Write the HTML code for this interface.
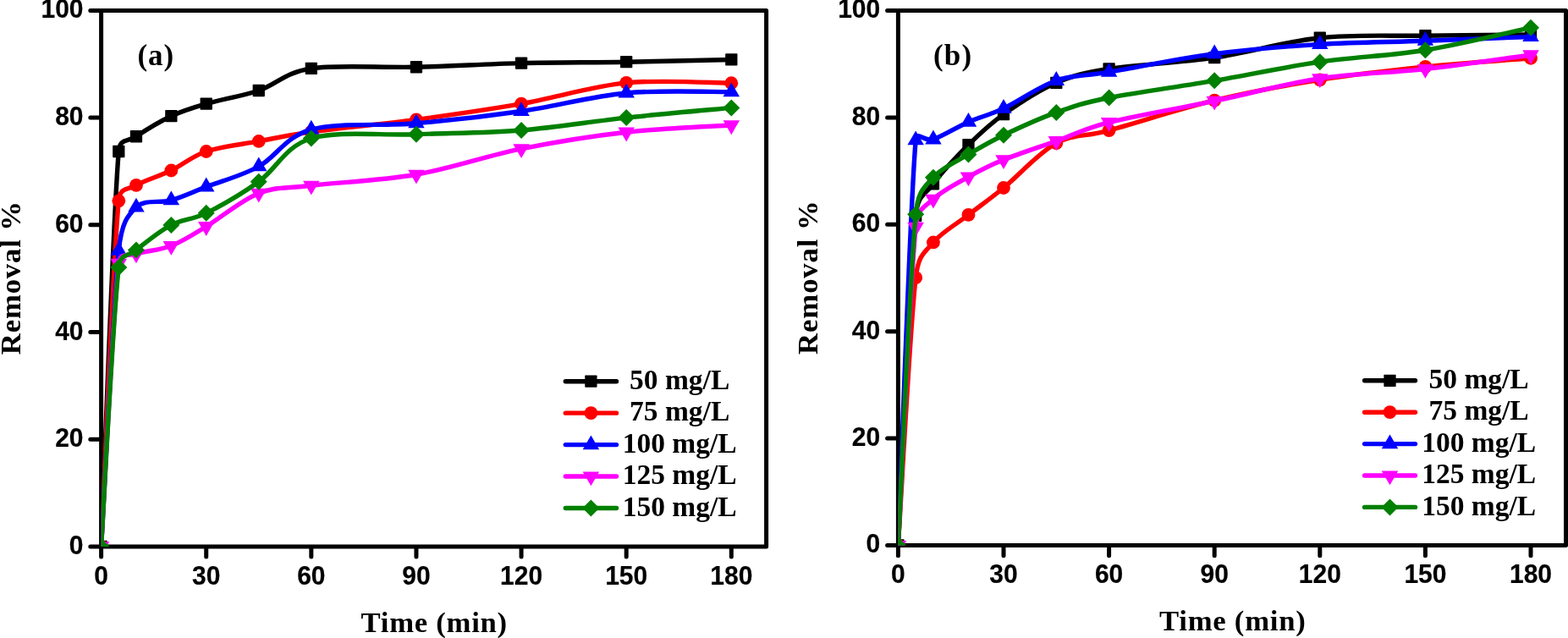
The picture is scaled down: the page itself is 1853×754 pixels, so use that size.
<!DOCTYPE html>
<html lang="en">
<head>
<meta charset="utf-8">
<title>Removal % vs Time</title>
<style>
html,body{margin:0;padding:0;background:#fff;}
body{width:1853px;height:754px;overflow:hidden;}
svg{display:block;}
.tk text{font-family:"Liberation Sans",Arial,Helvetica,sans-serif;font-weight:700;font-size:30px;fill:#000;stroke:#000;stroke-width:0.2px;stroke-linejoin:round;}
.tt{font-family:"Liberation Serif","Times New Roman",Times,serif;font-weight:700;font-size:34.7px;fill:#000;}
.tg{font-family:"Liberation Serif","Times New Roman",Times,serif;font-weight:700;font-size:35px;fill:#000;}
.lg text{font-family:"Liberation Serif","Times New Roman",Times,serif;font-weight:700;font-size:33.5px;fill:#000;}
</style>
</head>
<body>
<svg width="1853" height="754" viewBox="0 0 1853 754" role="img" aria-label="Removal percent versus time for five concentrations, panels a and b">
<rect width="1853" height="754" fill="#fff"/>
<g id="chart-a">
<g class="ax" fill="none" stroke="#000" stroke-width="5" stroke-linecap="round" stroke-linejoin="round">
<rect x="119.6" y="12.4" width="786" height="633.5"/>
<path d="M119.6,647.4v10.7M243.72,647.4v10.7M367.83,647.4v10.7M491.95,647.4v10.7M616.07,647.4v10.7M740.18,647.4v10.7M864.3,647.4v10.7M118.1,645.9h-11.3M118.1,519.2h-11.3M118.1,392.5h-11.3M118.1,265.8h-11.3M118.1,139.1h-11.3M118.1,12.4h-11.3"/>
</g>
<g class="tk">
<text transform="translate(119.6 690.9) scale(1 1.03)" text-anchor="middle">0</text>
<text transform="translate(243.72 690.9) scale(1 1.03)" text-anchor="middle">30</text>
<text transform="translate(367.83 690.9) scale(1 1.03)" text-anchor="middle">60</text>
<text transform="translate(491.95 690.9) scale(1 1.03)" text-anchor="middle">90</text>
<text transform="translate(616.07 690.9) scale(1 1.03)" text-anchor="middle">120</text>
<text transform="translate(740.18 690.9) scale(1 1.03)" text-anchor="middle">150</text>
<text transform="translate(864.3 690.9) scale(1 1.03)" text-anchor="middle">180</text>
<text transform="translate(98.5 654.9) scale(1 1.03)" text-anchor="end">0</text>
<text transform="translate(98.5 528.2) scale(1 1.03)" text-anchor="end">20</text>
<text transform="translate(98.5 401.5) scale(1 1.03)" text-anchor="end">40</text>
<text transform="translate(98.5 274.8) scale(1 1.03)" text-anchor="end">60</text>
<text transform="translate(98.5 148.1) scale(1 1.03)" text-anchor="end">80</text>
<text transform="translate(98.5 21.4) scale(1 1.03)" text-anchor="end">100</text>
</g>
<text class="tt" x="512.8" y="746.5" text-anchor="middle" textLength="172.5" lengthAdjust="spacing">Time (min)</text>
<text class="tt" transform="translate(23.9 328.65) rotate(-90)" text-anchor="middle" textLength="181" lengthAdjust="spacing">Removal %</text>
<text class="tg" x="162.5" y="76.9" textLength="42.6" lengthAdjust="spacing">(a)</text>
<clipPath id="clip-a"><rect x="119.6" y="12.4" width="786" height="633.5"/></clipPath>
<g clip-path="url(#clip-a)">
<g>
<path d="M119.6,645.9C123.05,568.09 133.39,259.78 140.29,179.01C141.68,162.72 150.63,168.24 160.97,161.27C171.32,154.3 188.55,143.64 202.34,137.2C216.14,130.76 226.48,127.67 243.72,122.63C260.96,117.59 285.09,113.95 305.77,106.98C326.46,100.01 336.8,85.44 367.83,80.82C398.86,76.19 450.58,80.27 491.95,79.23C533.32,78.2 574.69,75.61 616.07,74.61C657.44,73.61 698.81,73.91 740.18,73.22C781.56,72.52 843.61,70.89 864.3,70.43" fill="none" stroke="#000000" stroke-width="5.4" stroke-linejoin="round" stroke-linecap="round"/>
<rect x="112.45" y="638.75" width="14.3" height="14.3" rx="0.8" fill="#000000"/>
<rect x="133.14" y="171.86" width="14.3" height="14.3" rx="0.8" fill="#000000"/>
<rect x="153.82" y="154.12" width="14.3" height="14.3" rx="0.8" fill="#000000"/>
<rect x="195.19" y="130.05" width="14.3" height="14.3" rx="0.8" fill="#000000"/>
<rect x="236.57" y="115.48" width="14.3" height="14.3" rx="0.8" fill="#000000"/>
<rect x="298.62" y="99.83" width="14.3" height="14.3" rx="0.8" fill="#000000"/>
<rect x="360.68" y="73.67" width="14.3" height="14.3" rx="0.8" fill="#000000"/>
<rect x="484.8" y="72.08" width="14.3" height="14.3" rx="0.8" fill="#000000"/>
<rect x="608.92" y="67.46" width="14.3" height="14.3" rx="0.8" fill="#000000"/>
<rect x="733.03" y="66.07" width="14.3" height="14.3" rx="0.8" fill="#000000"/>
<rect x="857.15" y="63.28" width="14.3" height="14.3" rx="0.8" fill="#000000"/>
</g>
<g>
<path d="M119.6,645.9C123.05,577.8 133.39,308.46 140.29,237.29C141.89,220.77 150.63,224.89 160.97,218.92C171.32,212.96 188.55,208.15 202.34,201.5C216.14,194.85 226.48,184.76 243.72,179.01C260.96,173.26 285.09,170.83 305.77,166.97C326.46,163.12 336.8,160.16 367.83,155.89C398.86,151.61 450.58,146.86 491.95,141.32C533.32,135.77 574.69,129.86 616.07,122.63C657.44,115.4 698.81,101.99 740.18,97.92C781.56,93.86 843.61,98.19 864.3,98.24" fill="none" stroke="#ff0000" stroke-width="5.4" stroke-linejoin="round" stroke-linecap="round"/>
<circle cx="119.6" cy="645.9" r="7.9" fill="#ff0000"/>
<circle cx="140.29" cy="237.29" r="7.9" fill="#ff0000"/>
<circle cx="160.97" cy="218.92" r="7.9" fill="#ff0000"/>
<circle cx="202.34" cy="201.5" r="7.9" fill="#ff0000"/>
<circle cx="243.72" cy="179.01" r="7.9" fill="#ff0000"/>
<circle cx="305.77" cy="166.97" r="7.9" fill="#ff0000"/>
<circle cx="367.83" cy="155.89" r="7.9" fill="#ff0000"/>
<circle cx="491.95" cy="141.32" r="7.9" fill="#ff0000"/>
<circle cx="616.07" cy="122.63" r="7.9" fill="#ff0000"/>
<circle cx="740.18" cy="97.92" r="7.9" fill="#ff0000"/>
<circle cx="864.3" cy="98.24" r="7.9" fill="#ff0000"/>
</g>
<g>
<path d="M119.6,645.9C123.05,587.62 133.39,363.04 140.29,296.21C143.69,263.19 150.63,254.82 160.97,244.89C171.32,234.97 188.55,240.67 202.34,236.66C216.14,232.65 226.48,227.47 243.72,220.82C260.96,214.17 285.09,208.05 305.77,196.75C326.46,185.45 336.8,161.54 367.83,153.04C398.86,144.54 450.58,149.34 491.95,145.75C533.32,142.16 574.69,137.46 616.07,131.5C657.44,125.53 698.81,113.76 740.18,109.96C781.56,106.16 843.61,108.9 864.3,108.69" fill="none" stroke="#0000ff" stroke-width="5.4" stroke-linejoin="round" stroke-linecap="round"/>
<polygon points="119.6,634.7 129.35,651.5 109.85,651.5" fill="#0000ff"/>
<polygon points="140.29,285.01 150.04,301.81 130.54,301.81" fill="#0000ff"/>
<polygon points="160.97,233.69 170.72,250.49 151.22,250.49" fill="#0000ff"/>
<polygon points="202.34,225.46 212.09,242.26 192.59,242.26" fill="#0000ff"/>
<polygon points="243.72,209.62 253.47,226.42 233.97,226.42" fill="#0000ff"/>
<polygon points="305.77,185.55 315.52,202.35 296.02,202.35" fill="#0000ff"/>
<polygon points="367.83,141.84 377.58,158.64 358.08,158.64" fill="#0000ff"/>
<polygon points="491.95,134.55 501.7,151.35 482.2,151.35" fill="#0000ff"/>
<polygon points="616.07,120.3 625.82,137.1 606.32,137.1" fill="#0000ff"/>
<polygon points="740.18,98.76 749.93,115.56 730.43,115.56" fill="#0000ff"/>
<polygon points="864.3,97.49 874.05,114.29 854.55,114.29" fill="#0000ff"/>
</g>
<g>
<path d="M119.6,645.9C123.05,590.15 133.39,369.06 140.29,311.41C141.97,297.34 150.63,303.49 160.97,300.01C171.32,296.52 188.55,295.89 202.34,290.51C216.14,285.12 226.48,278.05 243.72,267.7C260.96,257.35 285.09,236.5 305.77,228.42C326.46,220.35 336.8,222.93 367.83,219.24C398.86,215.54 450.58,213.48 491.95,206.25C533.32,199.02 574.69,184.18 616.07,175.84C657.44,167.5 698.81,160.85 740.18,156.2C781.56,151.56 843.61,149.34 864.3,147.97" fill="none" stroke="#ff00ff" stroke-width="5.4" stroke-linejoin="round" stroke-linecap="round"/>
<polygon points="119.6,657.1 129.35,640.3 109.85,640.3" fill="#ff00ff"/>
<polygon points="140.29,322.61 150.04,305.81 130.54,305.81" fill="#ff00ff"/>
<polygon points="160.97,311.21 170.72,294.41 151.22,294.41" fill="#ff00ff"/>
<polygon points="202.34,301.71 212.09,284.91 192.59,284.91" fill="#ff00ff"/>
<polygon points="243.72,278.9 253.47,262.1 233.97,262.1" fill="#ff00ff"/>
<polygon points="305.77,239.62 315.52,222.82 296.02,222.82" fill="#ff00ff"/>
<polygon points="367.83,230.44 377.58,213.64 358.08,213.64" fill="#ff00ff"/>
<polygon points="491.95,217.45 501.7,200.65 482.2,200.65" fill="#ff00ff"/>
<polygon points="616.07,187.04 625.82,170.24 606.32,170.24" fill="#ff00ff"/>
<polygon points="740.18,167.4 749.93,150.6 730.43,150.6" fill="#ff00ff"/>
<polygon points="864.3,159.17 874.05,142.37 854.55,142.37" fill="#ff00ff"/>
</g>
<g>
<path d="M119.6,645.9C123.05,590.93 133.39,374.49 140.29,316.1C142.34,298.74 150.63,303.94 160.97,295.57C171.32,287.21 188.55,273.21 202.34,265.93C216.14,258.64 226.48,260.38 243.72,251.86C260.96,243.34 285.09,229.53 305.77,214.8C326.46,200.07 336.8,172.83 367.83,163.49C398.86,154.15 450.58,160.32 491.95,158.74C533.32,157.15 574.69,157.26 616.07,153.99C657.44,150.71 698.81,143.53 740.18,139.1C781.56,134.67 843.61,129.33 864.3,127.38" fill="none" stroke="#008000" stroke-width="5.4" stroke-linejoin="round" stroke-linecap="round"/>
<polygon points="119.6,635.9 129.6,645.9 119.6,655.9 109.6,645.9" fill="#008000"/>
<polygon points="140.29,306.1 150.29,316.1 140.29,326.1 130.29,316.1" fill="#008000"/>
<polygon points="160.97,285.57 170.97,295.57 160.97,305.57 150.97,295.57" fill="#008000"/>
<polygon points="202.34,255.93 212.34,265.93 202.34,275.93 192.34,265.93" fill="#008000"/>
<polygon points="243.72,241.86 253.72,251.86 243.72,261.86 233.72,251.86" fill="#008000"/>
<polygon points="305.77,204.8 315.77,214.8 305.77,224.8 295.77,214.8" fill="#008000"/>
<polygon points="367.83,153.49 377.83,163.49 367.83,173.49 357.83,163.49" fill="#008000"/>
<polygon points="491.95,148.74 501.95,158.74 491.95,168.74 481.95,158.74" fill="#008000"/>
<polygon points="616.07,143.99 626.07,153.99 616.07,163.99 606.07,153.99" fill="#008000"/>
<polygon points="740.18,129.1 750.18,139.1 740.18,149.1 730.18,139.1" fill="#008000"/>
<polygon points="864.3,117.38 874.3,127.38 864.3,137.38 854.3,127.38" fill="#008000"/>
</g>
</g>
<g class="lg">
<path d="M668.3,450.7H728.5" stroke="#000000" stroke-width="5.4" stroke-linecap="round" fill="none"/>
<rect x="691.25" y="443.55" width="14.3" height="14.3" rx="0.8" fill="#000000"/>
<text x="803.2" y="459.9" text-anchor="middle">50 mg/L</text>
<path d="M668.3,488.15H728.5" stroke="#ff0000" stroke-width="5.4" stroke-linecap="round" fill="none"/>
<circle cx="698.4" cy="488.15" r="7.9" fill="#ff0000"/>
<text x="803.2" y="497.35" text-anchor="middle">75 mg/L</text>
<path d="M668.3,525.6H728.5" stroke="#0000ff" stroke-width="5.4" stroke-linecap="round" fill="none"/>
<polygon points="698.4,514.4 708.15,531.2 688.65,531.2" fill="#0000ff"/>
<text x="803.2" y="534.8" text-anchor="middle">100 mg/L</text>
<path d="M668.3,563.05H728.5" stroke="#ff00ff" stroke-width="5.4" stroke-linecap="round" fill="none"/>
<polygon points="698.4,574.25 708.15,557.45 688.65,557.45" fill="#ff00ff"/>
<text x="803.2" y="572.25" text-anchor="middle">125 mg/L</text>
<path d="M668.3,600.5H728.5" stroke="#008000" stroke-width="5.4" stroke-linecap="round" fill="none"/>
<polygon points="698.4,590.5 708.4,600.5 698.4,610.5 688.4,600.5" fill="#008000"/>
<text x="803.2" y="609.7" text-anchor="middle">150 mg/L</text>
</g>
</g>
<g id="chart-b">
<g class="ax" fill="none" stroke="#000" stroke-width="5" stroke-linecap="round" stroke-linejoin="round">
<rect x="1061.4" y="12.5" width="789.1" height="632"/>
<path d="M1061.4,646v10.7M1186,646v10.7M1310.6,646v10.7M1435.2,646v10.7M1559.8,646v10.7M1684.4,646v10.7M1809,646v10.7M1059.9,644.5h-11.3M1059.9,518.1h-11.3M1059.9,391.7h-11.3M1059.9,265.3h-11.3M1059.9,138.9h-11.3M1059.9,12.5h-11.3"/>
</g>
<g class="tk">
<text transform="translate(1061.4 688.9) scale(1 1.03)" text-anchor="middle">0</text>
<text transform="translate(1186 688.9) scale(1 1.03)" text-anchor="middle">30</text>
<text transform="translate(1310.6 688.9) scale(1 1.03)" text-anchor="middle">60</text>
<text transform="translate(1435.2 688.9) scale(1 1.03)" text-anchor="middle">90</text>
<text transform="translate(1559.8 688.9) scale(1 1.03)" text-anchor="middle">120</text>
<text transform="translate(1684.4 688.9) scale(1 1.03)" text-anchor="middle">150</text>
<text transform="translate(1809 688.9) scale(1 1.03)" text-anchor="middle">180</text>
<text transform="translate(1040.2 653.4) scale(1 1.03)" text-anchor="end">0</text>
<text transform="translate(1040.2 527) scale(1 1.03)" text-anchor="end">20</text>
<text transform="translate(1040.2 400.6) scale(1 1.03)" text-anchor="end">40</text>
<text transform="translate(1040.2 274.2) scale(1 1.03)" text-anchor="end">60</text>
<text transform="translate(1040.2 147.8) scale(1 1.03)" text-anchor="end">80</text>
<text transform="translate(1040.2 21.4) scale(1 1.03)" text-anchor="end">100</text>
</g>
<text class="tt" x="1456.4" y="745.3" text-anchor="middle" textLength="172.8" lengthAdjust="spacing">Time (min)</text>
<text class="tt" transform="translate(965.6 328.15) rotate(-90)" text-anchor="middle" textLength="181.5" lengthAdjust="spacing">Removal %</text>
<text class="tg" x="1103" y="76.8" textLength="45.2" lengthAdjust="spacing">(b)</text>
<clipPath id="clip-b"><rect x="1061.4" y="12.5" width="789.1" height="632"/></clipPath>
<g clip-path="url(#clip-b)">
<g>
<path d="M1061.4,644.5C1064.86,579.61 1075.24,326.39 1082.17,255.19C1084.68,229.37 1092.55,231.28 1102.93,217.27C1113.32,203.26 1130.62,184.83 1144.47,171.13C1158.31,157.44 1168.69,147.33 1186,135.11C1203.31,122.89 1227.53,106.77 1248.3,97.82C1269.07,88.87 1279.45,86.34 1310.6,81.39C1341.75,76.44 1393.67,74.23 1435.2,68.12C1476.73,62.01 1518.27,49.05 1559.8,44.73C1601.33,40.41 1642.87,42.84 1684.4,42.2C1725.93,41.57 1788.23,41.15 1809,40.94" fill="none" stroke="#000000" stroke-width="5.4" stroke-linejoin="round" stroke-linecap="round"/>
<rect x="1054.25" y="637.35" width="14.3" height="14.3" rx="0.8" fill="#000000"/>
<rect x="1075.02" y="248.04" width="14.3" height="14.3" rx="0.8" fill="#000000"/>
<rect x="1095.78" y="210.12" width="14.3" height="14.3" rx="0.8" fill="#000000"/>
<rect x="1137.32" y="163.98" width="14.3" height="14.3" rx="0.8" fill="#000000"/>
<rect x="1178.85" y="127.96" width="14.3" height="14.3" rx="0.8" fill="#000000"/>
<rect x="1241.15" y="90.67" width="14.3" height="14.3" rx="0.8" fill="#000000"/>
<rect x="1303.45" y="74.24" width="14.3" height="14.3" rx="0.8" fill="#000000"/>
<rect x="1428.05" y="60.97" width="14.3" height="14.3" rx="0.8" fill="#000000"/>
<rect x="1552.65" y="37.58" width="14.3" height="14.3" rx="0.8" fill="#000000"/>
<rect x="1677.25" y="35.05" width="14.3" height="14.3" rx="0.8" fill="#000000"/>
<rect x="1801.85" y="33.79" width="14.3" height="14.3" rx="0.8" fill="#000000"/>
</g>
<g>
<path d="M1061.4,644.5C1064.86,591.78 1075.24,387.86 1082.17,328.18C1085.39,300.41 1092.55,298.85 1102.93,286.47C1113.32,274.1 1130.62,264.67 1144.47,253.92C1158.31,243.18 1168.69,236.12 1186,222.01C1203.31,207.89 1227.53,180.56 1248.3,169.24C1269.07,157.91 1279.45,162.49 1310.6,154.07C1341.75,145.64 1393.67,128.63 1435.2,118.68C1476.73,108.72 1518.27,100.98 1559.8,94.34C1601.33,87.71 1642.87,83.13 1684.4,78.86C1725.93,74.59 1788.23,70.43 1809,68.75" fill="none" stroke="#ff0000" stroke-width="5.4" stroke-linejoin="round" stroke-linecap="round"/>
<circle cx="1061.4" cy="644.5" r="7.9" fill="#ff0000"/>
<circle cx="1082.17" cy="328.18" r="7.9" fill="#ff0000"/>
<circle cx="1102.93" cy="286.47" r="7.9" fill="#ff0000"/>
<circle cx="1144.47" cy="253.92" r="7.9" fill="#ff0000"/>
<circle cx="1186" cy="222.01" r="7.9" fill="#ff0000"/>
<circle cx="1248.3" cy="169.24" r="7.9" fill="#ff0000"/>
<circle cx="1310.6" cy="154.07" r="7.9" fill="#ff0000"/>
<circle cx="1435.2" cy="118.68" r="7.9" fill="#ff0000"/>
<circle cx="1559.8" cy="94.34" r="7.9" fill="#ff0000"/>
<circle cx="1684.4" cy="78.86" r="7.9" fill="#ff0000"/>
<circle cx="1809" cy="68.75" r="7.9" fill="#ff0000"/>
</g>
<g>
<path d="M1061.4,644.5C1064.86,564.71 1075.24,245.71 1082.17,165.76C1083.24,153.33 1092.55,168.39 1102.93,164.81C1113.32,161.23 1130.62,150.38 1144.47,144.27C1158.31,138.16 1168.69,136.32 1186,128.16C1203.31,119.99 1227.53,102.45 1248.3,95.29C1269.07,88.13 1279.45,90.45 1310.6,85.18C1341.75,79.91 1393.67,69.17 1435.2,63.69C1476.73,58.21 1518.27,54.9 1559.8,52.32C1601.33,49.74 1642.87,49.68 1684.4,48.21C1725.93,46.73 1788.23,44.26 1809,43.47" fill="none" stroke="#0000ff" stroke-width="5.4" stroke-linejoin="round" stroke-linecap="round"/>
<polygon points="1061.4,633.3 1071.15,650.1 1051.65,650.1" fill="#0000ff"/>
<polygon points="1082.17,154.56 1091.92,171.36 1072.42,171.36" fill="#0000ff"/>
<polygon points="1102.93,153.61 1112.68,170.41 1093.18,170.41" fill="#0000ff"/>
<polygon points="1144.47,133.07 1154.22,149.87 1134.72,149.87" fill="#0000ff"/>
<polygon points="1186,116.96 1195.75,133.76 1176.25,133.76" fill="#0000ff"/>
<polygon points="1248.3,84.09 1258.05,100.89 1238.55,100.89" fill="#0000ff"/>
<polygon points="1310.6,73.98 1320.35,90.78 1300.85,90.78" fill="#0000ff"/>
<polygon points="1435.2,52.49 1444.95,69.29 1425.45,69.29" fill="#0000ff"/>
<polygon points="1559.8,41.12 1569.55,57.92 1550.05,57.92" fill="#0000ff"/>
<polygon points="1684.4,37.01 1694.15,53.81 1674.65,53.81" fill="#0000ff"/>
<polygon points="1809,32.27 1818.75,49.07 1799.25,49.07" fill="#0000ff"/>
</g>
<g>
<path d="M1061.4,644.5C1064.86,581.83 1075.24,336.66 1082.17,268.46C1084.54,245.09 1092.55,245.18 1102.93,235.28C1113.32,225.38 1130.62,216.79 1144.47,209.05C1158.31,201.31 1168.69,195.89 1186,188.83C1203.31,181.77 1227.53,174.08 1248.3,166.71C1269.07,159.33 1279.45,152.49 1310.6,144.59C1341.75,136.69 1393.67,127.95 1435.2,119.31C1476.73,110.67 1518.27,99.05 1559.8,92.76C1601.33,86.48 1642.87,86.21 1684.4,81.58C1725.93,76.94 1788.23,67.73 1809,64.96" fill="none" stroke="#ff00ff" stroke-width="5.4" stroke-linejoin="round" stroke-linecap="round"/>
<polygon points="1061.4,655.7 1071.15,638.9 1051.65,638.9" fill="#ff00ff"/>
<polygon points="1082.17,279.66 1091.92,262.86 1072.42,262.86" fill="#ff00ff"/>
<polygon points="1102.93,246.48 1112.68,229.68 1093.18,229.68" fill="#ff00ff"/>
<polygon points="1144.47,220.25 1154.22,203.45 1134.72,203.45" fill="#ff00ff"/>
<polygon points="1186,200.03 1195.75,183.23 1176.25,183.23" fill="#ff00ff"/>
<polygon points="1248.3,177.91 1258.05,161.11 1238.55,161.11" fill="#ff00ff"/>
<polygon points="1310.6,155.79 1320.35,138.99 1300.85,138.99" fill="#ff00ff"/>
<polygon points="1435.2,130.51 1444.95,113.71 1425.45,113.71" fill="#ff00ff"/>
<polygon points="1559.8,103.96 1569.55,87.16 1550.05,87.16" fill="#ff00ff"/>
<polygon points="1684.4,92.78 1694.15,75.98 1674.65,75.98" fill="#ff00ff"/>
<polygon points="1809,76.16 1818.75,59.36 1799.25,59.36" fill="#ff00ff"/>
</g>
<g>
<path d="M1061.4,644.5C1064.86,579.3 1075.24,325.76 1082.17,253.29C1084.92,224.44 1092.55,221.48 1102.93,209.68C1113.32,197.89 1130.62,190.83 1144.47,182.51C1158.31,174.19 1168.69,168.02 1186,159.76C1203.31,151.49 1227.53,140.27 1248.3,132.9C1269.07,125.52 1279.45,121.78 1310.6,115.52C1341.75,109.25 1393.67,102.35 1435.2,95.29C1476.73,88.23 1518.27,79.18 1559.8,73.17C1601.33,67.17 1642.87,66.01 1684.4,59.27C1725.93,52.53 1788.23,37.15 1809,32.72" fill="none" stroke="#008000" stroke-width="5.4" stroke-linejoin="round" stroke-linecap="round"/>
<polygon points="1061.4,634.5 1071.4,644.5 1061.4,654.5 1051.4,644.5" fill="#008000"/>
<polygon points="1082.17,243.29 1092.17,253.29 1082.17,263.29 1072.17,253.29" fill="#008000"/>
<polygon points="1102.93,199.68 1112.93,209.68 1102.93,219.68 1092.93,209.68" fill="#008000"/>
<polygon points="1144.47,172.51 1154.47,182.51 1144.47,192.51 1134.47,182.51" fill="#008000"/>
<polygon points="1186,149.76 1196,159.76 1186,169.76 1176,159.76" fill="#008000"/>
<polygon points="1248.3,122.9 1258.3,132.9 1248.3,142.9 1238.3,132.9" fill="#008000"/>
<polygon points="1310.6,105.52 1320.6,115.52 1310.6,125.52 1300.6,115.52" fill="#008000"/>
<polygon points="1435.2,85.29 1445.2,95.29 1435.2,105.29 1425.2,95.29" fill="#008000"/>
<polygon points="1559.8,63.17 1569.8,73.17 1559.8,83.17 1549.8,73.17" fill="#008000"/>
<polygon points="1684.4,49.27 1694.4,59.27 1684.4,69.27 1674.4,59.27" fill="#008000"/>
<polygon points="1809,22.72 1819,32.72 1809,42.72 1799,32.72" fill="#008000"/>
</g>
</g>
<g class="lg">
<path d="M1612.6,449.8H1672.5" stroke="#000000" stroke-width="5.4" stroke-linecap="round" fill="none"/>
<rect x="1635.35" y="442.65" width="14.3" height="14.3" rx="0.8" fill="#000000"/>
<text x="1747.6" y="459" text-anchor="middle">50 mg/L</text>
<path d="M1612.6,487.2H1672.5" stroke="#ff0000" stroke-width="5.4" stroke-linecap="round" fill="none"/>
<circle cx="1642.5" cy="487.2" r="7.9" fill="#ff0000"/>
<text x="1747.6" y="496.4" text-anchor="middle">75 mg/L</text>
<path d="M1612.6,524.6H1672.5" stroke="#0000ff" stroke-width="5.4" stroke-linecap="round" fill="none"/>
<polygon points="1642.5,513.4 1652.25,530.2 1632.75,530.2" fill="#0000ff"/>
<text x="1747.6" y="533.8" text-anchor="middle">100 mg/L</text>
<path d="M1612.6,562H1672.5" stroke="#ff00ff" stroke-width="5.4" stroke-linecap="round" fill="none"/>
<polygon points="1642.5,573.2 1652.25,556.4 1632.75,556.4" fill="#ff00ff"/>
<text x="1747.6" y="571.2" text-anchor="middle">125 mg/L</text>
<path d="M1612.6,599.4H1672.5" stroke="#008000" stroke-width="5.4" stroke-linecap="round" fill="none"/>
<polygon points="1642.5,589.4 1652.5,599.4 1642.5,609.4 1632.5,599.4" fill="#008000"/>
<text x="1747.6" y="608.6" text-anchor="middle">150 mg/L</text>
</g>
</g>
</svg>
</body>
</html>
